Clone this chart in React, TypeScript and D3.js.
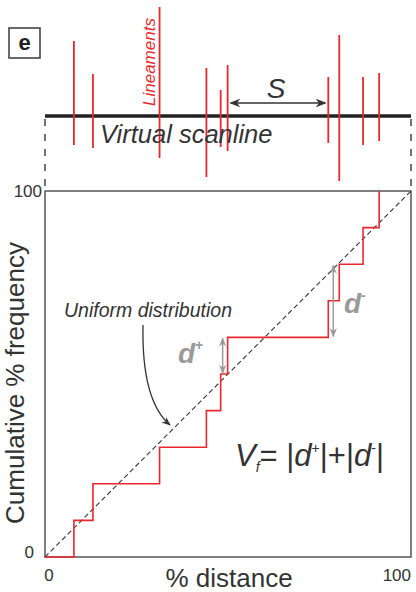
import React from 'react';
import * as d3 from 'd3';

// lineament positions along the scanline (% distance)
const lineamentPos = [7.9, 13.1, 31.3, 44.1, 48.0, 49.9, 77.4, 80.4, 86.9, 91.3];
// how far each lineament reaches above / below the scanline
const lineamentUp = [75, 42, 109, 48, 26, 51, 39, 81, 39, 43];
const lineamentDown = [29, 32, 42, 61, 31, 35, 27, 65, 29, 25];
// cumulative % frequency after each lineament
const cumFreq = [10, 20, 30, 40, 50, 60, 70, 80, 90, 100];
const xTicks = ['0', '100'];
const yTicks = ['0', '100'];

const FONT = "'Liberation Sans', Arial, sans-serif";
const RED = '#e8282e';
const DARK = '#333';
const GREY = '#9a9a9a';

export default function App() {
  const W = 416;
  const H = 592;
  const plot = { left: 45, right: 411, top: 191, bottom: 557 };
  const scanY = 116;

  const x = d3.scaleLinear().domain([0, 100]).range([plot.left, plot.right]);
  const y = d3.scaleLinear().domain([0, 100]).range([plot.bottom, plot.top]);
  const len = d3.scaleLinear().domain([0, 100]).range([0, 100]);

  const stepData: [number, number][] = [[0, 0], ...lineamentPos.map((p, i) => [p, cumFreq[i]] as [number, number])];
  const stepLine = d3.line<[number, number]>()
    .x(d => x(d[0]))
    .y(d => y(d[1]))
    .curve(d3.curveStepAfter);

  const diag = d3.line<[number, number]>().x(d => x(d[0])).y(d => y(d[1]))([[0, 0], [100, 100]]);

  // d+ and d- gaps
  const dPlusX = lineamentPos[5];
  const dMinusX = lineamentPos[6];

  return (
    <svg width={W} height={H} viewBox={`0 0 ${W} ${H}`} style={{ position: 'absolute', left: 0, top: 0, background: '#fff' }}>
      <defs>
        <marker id="ah" viewBox="0 0 10 10" refX="9" refY="5" markerWidth="7" markerHeight="7" orient="auto-start-reverse">
          <path d="M0,1 L10,5 L0,9 L3,5 Z" fill={DARK} />
        </marker>
        <marker id="ahg" viewBox="0 0 10 10" refX="9" refY="5" markerWidth="6" markerHeight="6" orient="auto-start-reverse">
          <path d="M0,1 L10,5 L0,9 L3,5 Z" fill={GREY} />
        </marker>
      </defs>

      {/* panel letter */}
      <rect x={9} y={28} width={31} height={30} fill="none" stroke="#444" strokeWidth={1.6} />
      <text x={24.5} y={50} textAnchor="middle" fontFamily={FONT} fontWeight="bold" fontSize={22} fill="#222">e</text>

      {/* scanline with lineaments */}
      <line x1={plot.left} x2={plot.right} y1={scanY} y2={scanY} stroke="#222" strokeWidth={3.5} />
      {lineamentPos.map((p, i) => (
        <line key={i} x1={x(p)} x2={x(p)} y1={scanY - len(lineamentUp[i])} y2={scanY + len(lineamentDown[i])}
          stroke={RED} strokeWidth={1.8} />
      ))}
      <text transform={`translate(155,106) rotate(-90)`} fontFamily={FONT} fontStyle="italic" fontSize={17} fill={RED}>Lineaments</text>
      <text x={100} y={143} fontFamily={FONT} fontStyle="italic" fontSize={25.5} fill={DARK}>Virtual scanline</text>
      <text x={276} y={98} textAnchor="middle" fontFamily={FONT} fontStyle="italic" fontSize={28} fill={DARK}>S</text>
      <line x1={x(lineamentPos[5]) + 3} x2={x(lineamentPos[6]) - 3} y1={103} y2={103} stroke={DARK} strokeWidth={1.5}
        markerStart="url(#ah)" markerEnd="url(#ah)" />

      {/* dashed drop lines */}
      <line x1={plot.left} x2={plot.left} y1={119} y2={190} stroke="#444" strokeWidth={1.5} strokeDasharray="7,8" />
      <line x1={plot.right} x2={plot.right} y1={119} y2={190} stroke="#444" strokeWidth={1.5} strokeDasharray="7,8" />

      {/* plot frame */}
      <rect x={plot.left} y={plot.top} width={plot.right - plot.left} height={plot.bottom - plot.top}
        fill="none" stroke="#555" strokeWidth={1.5} />

      {/* uniform distribution */}
      <path d={diag || ''} stroke="#333" strokeWidth={1.1} strokeDasharray="5,3" fill="none" />
      {/* cumulative step */}
      <path d={stepLine(stepData) || ''} stroke={RED} strokeWidth={1.6} fill="none" />

      {/* d+ / d- arrows */}
      <line x1={x(dPlusX) - 5} x2={x(dPlusX) - 5} y1={y(cumFreq[5]) + 1} y2={y(cumFreq[4]) - 1} stroke={GREY} strokeWidth={1.5}
        markerStart="url(#ahg)" markerEnd="url(#ahg)" />
      <line x1={x(dMinusX) + 5} x2={x(dMinusX) + 5} y1={y(dMinusX + 2.5) + 1} y2={y(cumFreq[5]) - 1} stroke={GREY} strokeWidth={1.5}
        markerStart="url(#ahg)" markerEnd="url(#ahg)" />
      <text x={178} y={363} fontFamily={FONT} fontWeight="bold" fontStyle="italic" fontSize={28} fill={GREY}>
        d<tspan fontSize={14} dy={-13} fontStyle="normal">+</tspan>
      </text>
      <text x={344} y={313} fontFamily={FONT} fontWeight="bold" fontStyle="italic" fontSize={28} fill={GREY}>
        d<tspan fontSize={14} dy={-13} fontStyle="normal">-</tspan>
      </text>

      {/* uniform distribution label + arrow */}
      <text x={64} y={317} fontFamily={FONT} fontStyle="italic" fontSize={19.5} fill={DARK}>Uniform distribution</text>
      <path d="M143,325 C142,375 150,408 170,425" fill="none" stroke={DARK} strokeWidth={1.3} markerEnd="url(#ah)" />

      {/* formula */}
      <text x={235} y={466} fontFamily={FONT} fontSize={31} fill={DARK}>
        <tspan fontStyle="italic">V</tspan>
        <tspan fontStyle="italic" fontSize={14} dy={6}>f</tspan>
        <tspan dy={-6}>= |</tspan>
        <tspan fontStyle="italic">d</tspan>
        <tspan fontSize={14} dy={-13}>+</tspan>
        <tspan dy={13}>|+|</tspan>
        <tspan fontStyle="italic">d</tspan>
        <tspan fontSize={14} dy={-13}>-</tspan>
        <tspan dy={13}>|</tspan>
      </text>

      {/* tick labels */}
      <text x={34} y={558} textAnchor="end" fontFamily={FONT} fontSize={17} fill={DARK}>{yTicks[0]}</text>
      <text x={42} y={197} textAnchor="end" fontFamily={FONT} fontSize={17} fill={DARK}>{yTicks[1]}</text>
      <text x={x(0) + 4} y={581} textAnchor="middle" fontFamily={FONT} fontSize={17} fill={DARK}>{xTicks[0]}</text>
      <text x={x(100)} y={581} textAnchor="end" fontFamily={FONT} fontSize={17} fill={DARK}>{xTicks[1]}</text>

      {/* axis titles */}
      <text x={229} y={587} textAnchor="middle" fontFamily={FONT} fontSize={26} fill={DARK}>% distance</text>
      <text transform={`translate(23.5,383) rotate(-90)`} textAnchor="middle" fontFamily={FONT} fontSize={26} fill={DARK}>Cumulative % frequency</text>
    </svg>
  );
}
